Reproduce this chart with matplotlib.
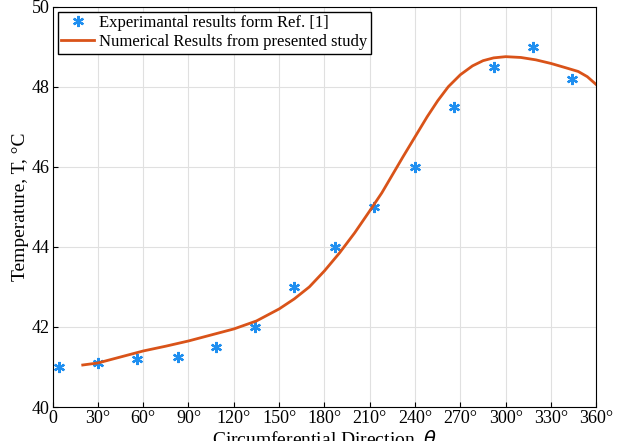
import matplotlib.pyplot as plt
import numpy as np

plt.rcParams['font.family'] = ['Liberation Serif', 'DejaVu Serif']

# experimental points
exp_theta = [4, 30, 56, 83, 108, 134, 160, 187, 213, 240, 266, 292, 318, 344]
exp_temp = [41.0, 41.1, 41.2, 41.25, 41.5, 42.0, 43.0, 44.0, 45.0, 46.0, 47.5, 48.5, 49.0, 48.2]

# numerical curve
num_theta = [20, 30, 45, 60, 75, 90, 105, 120, 135, 150, 160, 170, 180, 190, 200, 210,
             218, 225, 232, 240, 248, 255, 262, 270, 278, 285, 292, 300, 310, 320,
             330, 340, 348, 354, 360]
num_temp = [41.05, 41.1, 41.25, 41.4, 41.52, 41.65, 41.8, 41.95, 42.15, 42.45, 42.7, 43.0,
            43.4, 43.85, 44.35, 44.9, 45.35, 45.8, 46.25, 46.75, 47.25, 47.65, 48.0,
            48.3, 48.52, 48.65, 48.72, 48.75, 48.73, 48.67, 48.58, 48.47, 48.38, 48.25, 48.05]

xticks = list(range(0, 361, 30))
xlabels = ['0'] + [f'{t}°' for t in xticks[1:]]

fig, ax = plt.subplots(figsize=(6.18, 4.41), dpi=100)
fig.subplots_adjust(left=0.085, right=0.965, top=0.985, bottom=0.077)

ax.plot(exp_theta, exp_temp, linestyle='none', marker=(6, 2, 0), markersize=8,
        markeredgewidth=1.6, color='#1f8ff0', label='Experimantal results form Ref. [1]')
ax.plot(num_theta, num_temp, color='#d95319', linewidth=2,
        label='Numerical Results from presented study')

ax.set_xlim(0, 360)
ax.set_ylim(40, 50)
ax.set_xticks(xticks)
ax.set_xticklabels(xlabels)
ax.set_yticks(range(40, 51, 2))
ax.grid(True, color='#e0e0e0', linewidth=0.8)
ax.tick_params(labelsize=13, direction='in', pad=2)
ax.set_xlabel(r'Circumferential Direction, $\theta$', fontsize=14, labelpad=1)
ax.set_ylabel('Temperature, T, °C', fontsize=14, labelpad=2)
ax.legend(loc='upper left', fontsize=12, fancybox=False, edgecolor='black',
          borderpad=0.2, handletextpad=0.3, borderaxespad=0.3, labelspacing=0.2,
          framealpha=1)

fig.savefig('out.png')
